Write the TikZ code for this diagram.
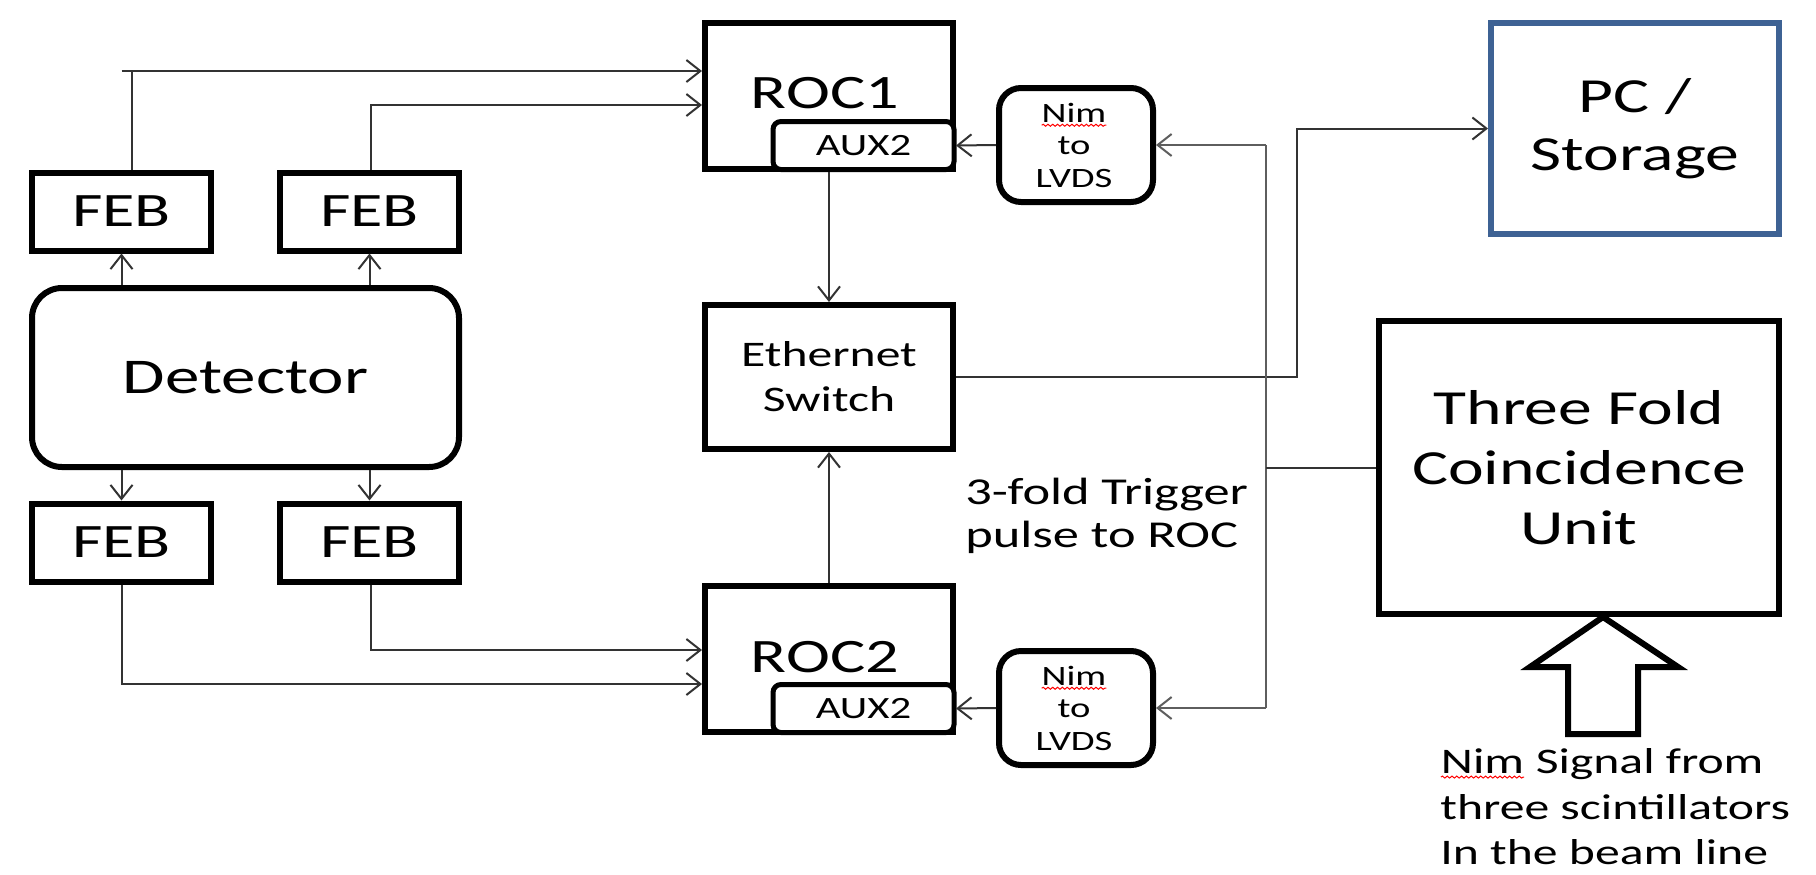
\documentclass[tikz,border=0pt]{standalone}
\usepackage{fontspec}
\setmainfont{Carlito}[FakeStretch=1.38]
\usetikzlibrary{arrows.meta,calc,decorations.pathmorphing}
\definecolor{pcblue}{HTML}{3E6294}
\definecolor{lineclr}{HTML}{333333}
\definecolor{busclr}{HTML}{5E5E5E}
\newcommand\myfs[2]{\fontsize{#1}{#2}\selectfont}
\newcommand\squig[1]{\tikz[baseline=(sqw.base)]{\node[inner sep=0pt,outer sep=0pt] (sqw) {#1};
  \draw[red, line width=0.5pt, decorate, decoration={snake,amplitude=0.5pt,segment length=2.4pt}]
  ([yshift=-1.6pt]sqw.base west) -- ([yshift=-1.6pt]sqw.base east);}}
\begin{document}
\begin{tikzpicture}[x=0.5pt,y=-0.5pt,
  blk/.style={draw=black, line width=3pt, inner sep=0pt, align=center, text=black},
  rblk/.style={blk, rounded corners=#1},
  auxbox/.style={draw=black, line width=2.5pt, rounded corners=4pt, fill=white, inner sep=0pt,
    minimum width=90.5pt, minimum height=24pt, font=\myfs{15.5}{18}},
  txt/.style={align=center, inner sep=0pt},
  conn/.style={draw=lineclr, line width=1pt},
  arr/.style={conn, -{Straight Barb[length=7pt,width=11pt,line width=1pt]}},
  bus/.style={draw=busclr, line width=1pt},
  busarr/.style={bus, -{Straight Barb[length=7pt,width=11pt,line width=1pt]}}]
\useasboundingbox (0,0) rectangle (1816,874);
\fill[white] (0,0) rectangle (1816,874);

% front end boards and detector
\node[blk, minimum width=89.5pt, minimum height=39pt, font=\myfs{24}{29}] (feb1) at (121.5,211.5) {FEB};
\node[blk, minimum width=89.5pt, minimum height=39pt, font=\myfs{24}{29}] (feb2) at (369.5,211.5) {FEB};
\node[blk, minimum width=89.5pt, minimum height=39pt, font=\myfs{24}{29}] (feb3) at (121.5,542.5) {FEB};
\node[blk, minimum width=89.5pt, minimum height=39pt, font=\myfs{24}{29}] (feb4) at (369.5,542.5) {FEB};
\node[rblk=15pt, minimum width=213.5pt, minimum height=89.5pt, font=\myfs{25}{30}] (det) at (245.5,377.5) {Detector};

% readout controllers
\node[blk, minimum width=124pt, minimum height=73pt] (roc1) at (829,96) {};
\node[blk, minimum width=124pt, minimum height=73pt] (roc2) at (829,658.5) {};
\node[font=\myfs{24}{29}, inner sep=0pt] (roc1t) at (825,93) {ROC1};
\node[font=\myfs{24}{29}, inner sep=0pt] (roc2t) at (825,657) {ROC2};
\node[auxbox] (aux1) at (863.5,145.5) {AUX2};
\node[auxbox] (aux2) at (863.5,708.5) {AUX2};

% Nim to LVDS converters
\node[rblk=11pt, minimum width=77pt, minimum height=57pt] (nim1) at (1076,145) {};
\node[rblk=11pt, minimum width=77pt, minimum height=57pt] (nim2) at (1076,708) {};
\node[txt, font=\myfs{14}{16.25}] (nim1t) at (1074,145) {\squig{Nim}\\to\\LVDS};
\node[txt, font=\myfs{14}{16.25}] (nim2t) at (1074,708) {\squig{Nim}\\to\\LVDS};

% ethernet switch
\node[blk, minimum width=124pt, minimum height=72pt, font=\myfs{18}{22.5}] (eth) at (829,377) {Ethernet\\Switch};

% PC / storage
\node[blk, draw=pcblue, minimum width=144pt, minimum height=105.5pt, font=\myfs{24.5}{29}] (pc) at (1635,128.5) {PC /\\Storage};

% coincidence unit
\node[blk, minimum width=200pt, minimum height=146.5pt, font=\myfs{24.5}{30}] (coin) at (1579,467.5) {Three Fold\\Coincidence\\Unit};

% texts
\node[anchor=west, align=left, inner sep=0pt, font=\myfs{19}{21.5}] (trig) at (965,516) {3-fold Trigger\\pulse to ROC};
\node[anchor=west, align=left, inner sep=0pt, font=\myfs{18}{22.75}] (sig) at (1440,807) {\squig{Nim} Signal from\\three scintillators\\In the beam line};

% detector to FEBs
\draw[arr] (det.north -| feb1.south) -- (feb1.south);
\draw[arr] (det.north -| feb2.south) -- (feb2.south);
\draw[arr] (det.south -| feb3.north) -- (feb3.north);
\draw[arr] (det.south -| feb4.north) -- (feb4.north);

% FEBs to ROCs
\coordinate (r1a) at ([yshift=12.5pt]roc1.west);
\coordinate (r1b) at ([yshift=-4.5pt]roc1.west);
\coordinate (r2a) at ([yshift=4.25pt]roc2.west);
\coordinate (r2b) at ([yshift=-12.75pt]roc2.west);
\draw[conn] ([xshift=5pt]feb1.north) -- ([xshift=5pt]feb1.north |- r1a);
\draw[arr] (feb1.north |- r1a) -- (r1a);
\draw[arr] ([xshift=0.5pt]feb2.north) |- (r1b);
\draw[arr] ([xshift=0.5pt]feb4.south) |- (r2a);
\draw[arr] (feb3.south) |- (r2b);

% ROCs to switch
\draw[arr] (roc1.south) -- (eth.north);
\draw[arr] (roc2.north) -- (eth.south);

% switch to PC
\draw[arr] (eth.east) -| ([xshift=-95.5pt]pc.west) -- (pc.west);

% Nim converters to AUX2
\draw[arr] (nim1.west) -- (aux1.east -| roc1.east);
\draw[arr] (nim2.west) -- (aux2.east -| roc2.east);

% trigger bus
\coordinate (bt) at ([xshift=55pt]nim1.east);
\coordinate (bb) at ([xshift=55pt]nim2.east);
\draw[bus] (bt) -- (bb);
\draw[busarr] (bt) -- (nim1.east);
\draw[busarr] (bb) -- (nim2.east);
\draw[conn] (coin.west) -- (coin.west -| bt);

% block arrow into coincidence unit
\coordinate (tip) at ([xshift=12pt]coin.south);
\draw[line width=3pt, line join=miter, fill=white] (tip) -- ++(75,50) -- ++(-40,0) -- ++(0,67) -- ++(-70,0) -- ++(0,-67) -- ++(-38,0) -- cycle;
\end{tikzpicture}
\end{document}
